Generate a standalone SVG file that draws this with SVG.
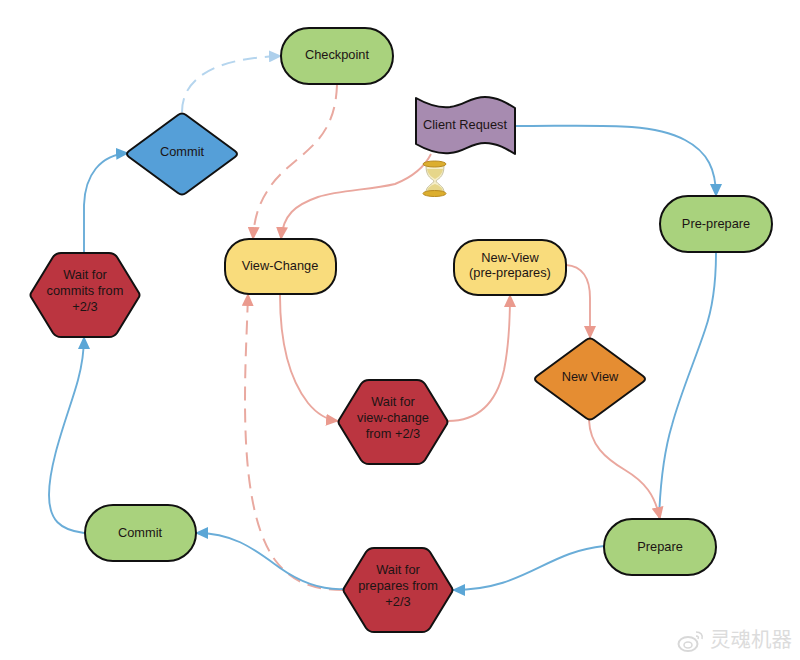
<svg xmlns="http://www.w3.org/2000/svg" width="800" height="660" viewBox="0 0 800 660">
<style>
.n{stroke:#111;stroke-width:2;stroke-linejoin:round}
.g{fill:#a9d27d}.y{fill:#f9dc7c}.r{fill:#bb3540}
text{font-family:"Liberation Sans",Arial,sans-serif;font-size:12.8px;fill:#1c1414;text-anchor:middle}
.c{fill:none;stroke-width:1.9}
.b{stroke:#6aadd8}.p{stroke:#eaa79e}
.lb{stroke:#b5d5ee;stroke-width:2;stroke-dasharray:14 8}
.dp{stroke:#e9a9a0;stroke-width:2;stroke-dasharray:14 8}
</style>
<defs>
<marker id="ab" markerUnits="userSpaceOnUse" markerWidth="13" markerHeight="12" refX="12" refY="6" orient="auto"><path d="M0 0L13 6L0 12Z" fill="#5ba6d6"/></marker>
<marker id="al" markerUnits="userSpaceOnUse" markerWidth="13" markerHeight="12" refX="12" refY="6" orient="auto"><path d="M0 0L13 6L0 12Z" fill="#aed0ec"/></marker>
<marker id="ap" markerUnits="userSpaceOnUse" markerWidth="13" markerHeight="12" refX="12" refY="6" orient="auto"><path d="M0 0L13 6L0 12Z" fill="#ea9a8e"/></marker>
<path id="hex" d="M1 44Q0 42 1 40L23 4Q26 0 31 0H79Q84 0 87 4L109 40Q110 42 109 44L87 80Q84 84 79 84H31Q26 84 23 80Z"/>
<path id="dia" d="M51 2Q55 -1 59 2L108 38Q112 41 108 44L59 80Q55 83 51 80L2 44Q-2 41 2 38Z"/>
</defs>
<rect width="800" height="660" fill="#fff"/>
<g id="connectors">
<path class="c lb" marker-end="url(#al)" d="M182 112C182 78 215 58 281 56"/>
<path class="c dp" marker-end="url(#ap)" d="M337 85C336 110 330 125 318 140C300 160 280 170 268 190C258 205 254 220 253 239"/>
<path class="c p" marker-end="url(#ap)" d="M431 154C424 168 410 178 395 184C370 190 340 190 318 197C295 205 283 215 281 239"/>
<path class="c b" marker-end="url(#ab)" d="M515 126C600 126 650 122 685 140C708 152 716 170 716 196"/>
<path class="c b" d="M716 253C716 285 712 310 705 330C695 360 680 395 672 425C663 455 660 490 659 519"/>
<path class="c p" marker-end="url(#ap)" d="M280 295C280 345 290 380 308 403C317 414 328 420 338 421"/>
<path class="c p" marker-end="url(#ap)" d="M448 421C480 421 497 400 504 370C509 345 510 320 510 295"/>
<path class="c p" marker-end="url(#ap)" d="M566 265C582 266 590 278 590 298V338"/>
<path class="c p" marker-end="url(#ap)" d="M589 420C590 445 605 458 625 470C645 482 655 495 660 519"/>
<path class="c b" marker-end="url(#ab)" d="M604 546C545 552 525 590 453 590"/>
<path class="c dp" marker-end="url(#ap)" d="M343 590C310 590 290 580 275 560C252 528 245 470 245 400C245 360 247 330 248 294"/>
<path class="c b" marker-end="url(#ab)" d="M343 589C320 590 300 582 280 568C255 550 235 533 196 533"/>
<path class="c b" marker-end="url(#ab)" d="M84 533C60 530 49 520 49 495C49 460 70 410 78 380C82 365 84 350 84 337"/>
<path class="c b" marker-end="url(#ab)" d="M84 253V205C85 175 100 155 128 153"/>
</g>
<g id="checkpoint"><rect class="n g" x="281" y="28" width="112" height="56" rx="28"/><text x="337" y="59">Checkpoint</text></g>
<g id="commit-decision"><use href="#dia" x="127" y="113" class="n" fill="#559fd8"/><text x="182" y="156">Commit</text></g>
<g id="client-request"><path class="n" fill="#a78bb0" d="M416 98C430 106 440 108 450 107C465 105 470 97 485 97C497 97 507 103 515 108V154C507 149 497 143 485 143C470 143 465 152 450 153C440 154 430 152 416 144Z"/><text x="465" y="129">Client Request</text></g>
<g id="hourglass">
<path d="M426 166H444C444 178 437 179 436 181C437 184 444 186 444 192H426C426 186 433 184 434 181C433 179 426 178 426 166Z" fill="#f5eec8" stroke="#c9c3a0"/>
<path d="M427 169H443C442 175 437 178 435 179C433 178 428 175 427 169Z" fill="#e6d68a"/>
<path d="M427 191C428 187 432 185 435 184C438 185 442 187 443 191Z" fill="#e6d68a"/>
<ellipse cx="434.500" cy="164" rx="11.500" ry="3" fill="#dcae2e" stroke="#b98a1f"/>
<ellipse cx="434.500" cy="193.500" rx="11.500" ry="3" fill="#dcae2e" stroke="#b98a1f"/>
</g>
<g id="pre-prepare"><rect class="n g" x="660" y="196" width="112" height="56" rx="28"/><text x="716" y="228">Pre-prepare</text></g>
<g id="view-change"><rect class="n y" x="225" y="239" width="111" height="55" rx="24"/><text x="280" y="270">View-Change</text></g>
<g id="new-view"><rect class="n y" x="454" y="240" width="112" height="55" rx="24"/><text x="510" y="262">New-View</text><text x="510" y="277">(pre-prepares)</text></g>
<g id="wait-commits"><use href="#hex" x="30" y="253" class="n r"/><text x="85" y="279">Wait for</text><text x="85" y="295">commits from</text><text x="85" y="311">+2/3</text></g>
<g id="new-view-decision"><use href="#dia" x="535" y="338" class="n" fill="#e58d32"/><text x="590" y="381">New View</text></g>
<g id="wait-view-change"><use href="#hex" x="338" y="380" class="n r"/><text x="393" y="406">Wait for</text><text x="393" y="422">view-change</text><text x="393" y="438">from +2/3</text></g>
<g id="commit"><rect class="n g" x="85" y="505" width="111" height="56" rx="28"/><text x="140" y="537">Commit</text></g>
<g id="prepare"><rect class="n g" x="604" y="519" width="112" height="56" rx="28"/><text x="660" y="551">Prepare</text></g>
<g id="wait-prepares"><use href="#hex" x="343" y="548" class="n r"/><text x="398" y="574">Wait for</text><text x="398" y="590">prepares from</text><text x="398" y="606">+2/3</text></g>
<g id="watermark"><ellipse cx="688" cy="644" rx="9.500" ry="7" fill="none" stroke="#d8d8d8" stroke-width="2"/><ellipse cx="688" cy="645" rx="4" ry="3" fill="none" stroke="#d8d8d8" stroke-width="1.500"/><path d="M696 632C701 632 703 635 702 639M696 636C698 636 699 637 698 639" fill="none" stroke="#d8d8d8" stroke-width="1.500"/><text x="751" y="647" style="font-family:'Noto Sans CJK SC',sans-serif;font-size:20.500px;fill:#dcdcdc">灵魂机器</text></g>
</svg>
